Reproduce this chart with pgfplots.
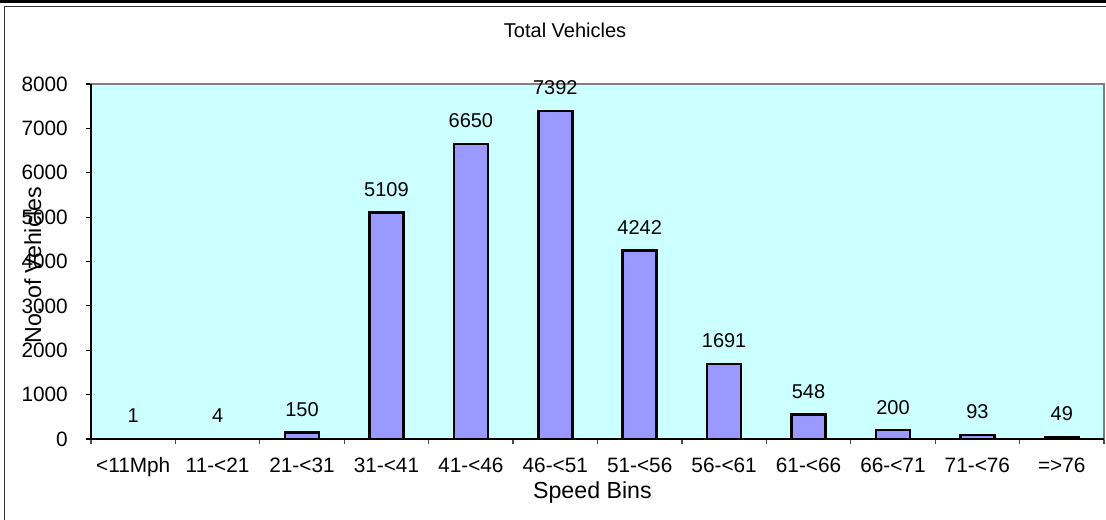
\documentclass[border=0pt]{standalone}
\usepackage{pgfplots}
\pgfplotsset{compat=1.18}
\usepackage{fontspec}
\setmainfont{Liberation Sans}
\definecolor{plotbg}{HTML}{CCFFFF}
\definecolor{barfill}{HTML}{9999FF}
\definecolor{boxgray}{HTML}{808080}
\begin{document}
\begin{tikzpicture}
\path[use as bounding box] (0,0) rectangle (553bp,260bp);
\draw[line width=1.6bp] (0,259.2bp) -- (553bp,259.2bp);
\draw[line width=0.6bp, black!80] (2.25bp,0) -- (2.25bp,256.75bp) -- (553bp,256.75bp);
\begin{axis}[
  at={(45.5bp,40.5bp)}, anchor=south west,
  scale only axis, width=506.5bp, height=177.5bp,
  xmin=-0.5, xmax=11.5, ymin=0, ymax=8000,
  axis background/.style={fill=plotbg},
  axis line style={draw=boxgray, line width=1bp},
  ytick={0,1000,...,8000},
  xtick={0,...,11},
  xticklabels={<11Mph,11-<21,21-<31,31-<41,41-<46,46-<51,51-<56,56-<61,61-<66,66-<71,71-<76,=>76},
  minor xtick={-0.5,0.5,...,11.5},
  major x tick style={draw=none},
  minor x tick style={black!70, line width=0.6bp},
  major y tick style={black, line width=0.6bp},
  tick align=outside,
  major tick length=2.5bp, minor tick length=2.5bp,
  xtick pos=bottom, ytick pos=left,
  /pgf/number format/1000 sep={},
  /pgf/number format/assume math mode=true,
  ticklabel style={font=\fontsize{10.4bp}{12bp}\selectfont},
  yticklabel style={anchor=east, inner sep=0pt, xshift=-8.9bp},
  xticklabel style={anchor=base, inner sep=0pt, yshift=-14bp},
  title={Total Vehicles},
  title style={font=\fontsize{10bp}{12bp}\selectfont, at={(axis description cs:0.468,1.118)}, anchor=center},
  xlabel={Speed Bins},
  xlabel style={font=\fontsize{11.6bp}{13bp}\selectfont, at={(axis description cs:0.495,0)}, anchor=base, yshift=-29.5bp},
  ylabel={No. of Vehicles},
  ylabel style={font=\fontsize{11.6bp}{13bp}\selectfont, at={(axis description cs:-0.0575,0.49)}, anchor=center},
  clip=false,
]
\addplot[ybar, bar width=17bp, fill=barfill, draw=black, line width=1.3bp,
  nodes near coords, point meta=y,
  nodes near coords style={font=\fontsize{10bp}{12bp}\selectfont, anchor=center, yshift=11.5bp, black, /pgf/number format/fixed, /pgf/number format/precision=0}]
  coordinates {(0,1) (1,4) (2,150) (3,5109) (4,6650) (5,7392) (6,4242) (7,1691) (8,548) (9,200) (10,93) (11,49)};
\draw[black, line width=1bp] (rel axis cs:0,1) -- (rel axis cs:0,0) -- (rel axis cs:1,0);
\end{axis}
\end{tikzpicture}
\end{document}
